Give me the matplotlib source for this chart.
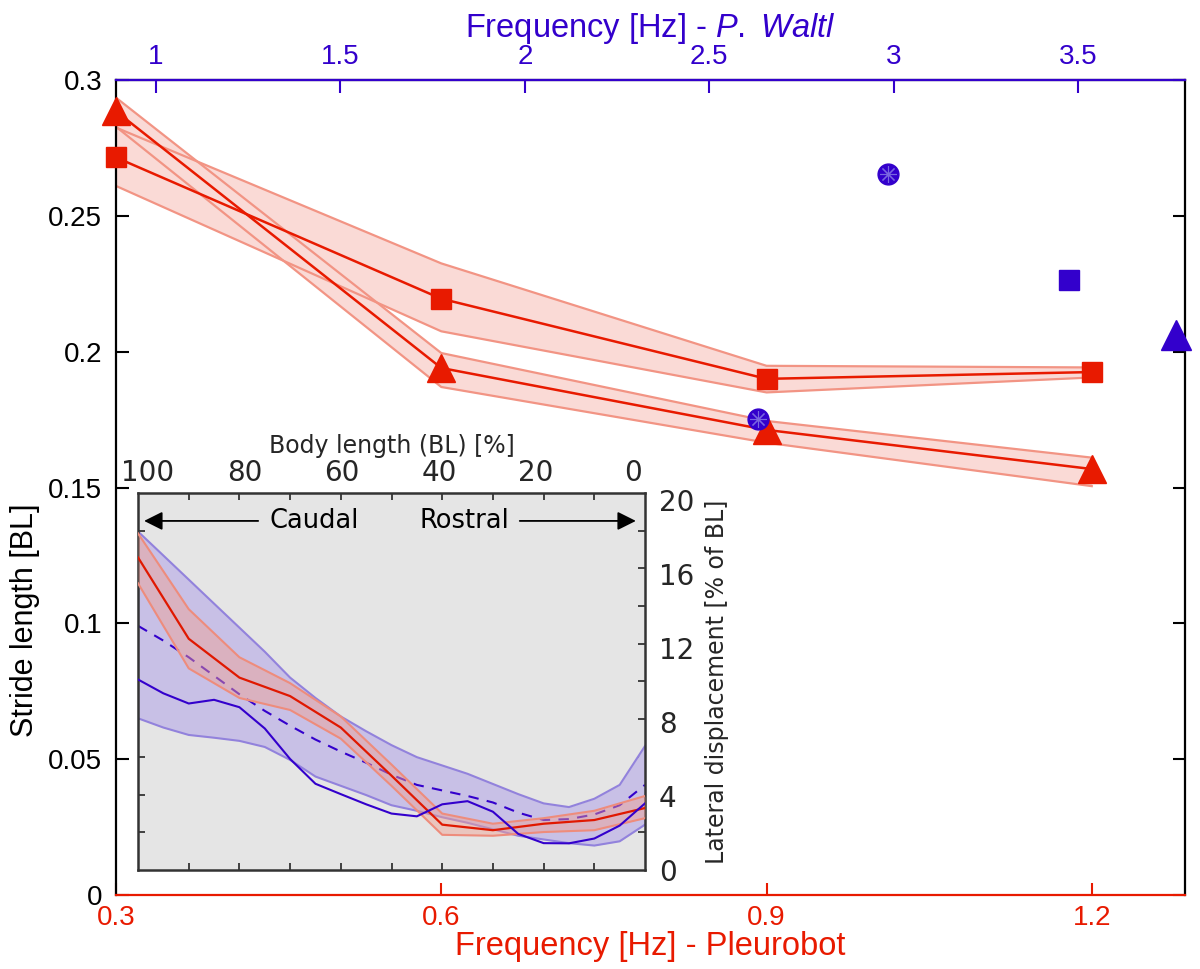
import numpy as np
import matplotlib
matplotlib.use('Agg')
import matplotlib.pyplot as plt

plt.rcParams['mathtext.fontset'] = 'custom'
plt.rcParams['mathtext.it'] = 'Liberation Sans:italic'
plt.rcParams['mathtext.rm'] = 'Liberation Sans'

# ---------------- main data ----------------
freq_pleurobot = [0.3, 0.6, 0.9, 1.2]
stride_sq = [0.2715, 0.2195, 0.190, 0.1925]
stride_sq_lo = [0.261, 0.2075, 0.185, 0.1905]
stride_sq_hi = [0.2825, 0.2325, 0.1948, 0.1942]
stride_tri = [0.2885, 0.194, 0.1712, 0.1568]
stride_tri_lo = [0.2828, 0.187, 0.1665, 0.1505]
stride_tri_hi = [0.2935, 0.1995, 0.1745, 0.161]

waltl_freq_circle = [2.985, 2.632]
waltl_stride_circle = [0.2655, 0.1753]
waltl_freq_square = [3.476]
waltl_stride_square = [0.2264]
waltl_freq_triangle = [3.765]
waltl_stride_triangle = [0.2062]

bottom_ticks = [0.3, 0.6, 0.9, 1.2]
bottom_ticklabels = ['0.3', '0.6', '0.9', '1.2']
top_ticks = [1, 1.5, 2, 2.5, 3, 3.5]
top_ticklabels = ['1', '1.5', '2', '2.5', '3', '3.5']
y_ticks = [0, 0.05, 0.1, 0.15, 0.2, 0.25, 0.3]
y_ticklabels = ['0', '0.05', '0.1', '0.15', '0.2', '0.25', '0.3']

# ---------------- inset data ----------------
bl_red = [102.06, 91.6, 81.15, 70.7, 60.25, 49.8, 39.34, 28.89, 18.43, 7.98, -2.47]
disp_red = [16.9, 12.5, 10.4, 9.4, 7.7, 5.1, 2.45, 2.15, 2.5, 2.7, 3.35]
disp_red_hi = [18.2, 14.1, 11.5, 10.1, 8.3, 5.7, 3.05, 2.5, 2.8, 3.2, 4.0]
disp_red_lo = [15.5, 10.9, 9.3, 8.65, 7.1, 4.55, 1.9, 1.85, 2.05, 2.15, 2.8]

bl_blue = [102.06, 96.83, 91.6, 86.38, 81.15, 75.92, 70.7, 65.47, 60.25, 55.02, 49.8,
           44.57, 39.34, 34.12, 28.89, 23.66, 18.43, 13.21, 7.98, 2.75, -2.47]
disp_blue = [10.3, 9.55, 9.0, 9.2, 8.8, 7.65, 6.0, 4.66, 4.1, 3.55, 3.05,
             2.9, 3.55, 3.72, 3.15, 1.95, 1.45, 1.44, 1.7, 2.4, 3.6]
disp_blue_hi = [18.3, 17.0, 15.7, 14.4, 13.1, 11.8, 10.4, 9.3, 8.3, 7.5, 6.75,
                6.1, 5.65, 5.2, 4.65, 4.1, 3.6, 3.4, 3.85, 4.6, 6.7]
disp_blue_lo = [8.2, 7.7, 7.3, 7.15, 6.98, 6.65, 5.95, 5.05, 4.55, 4.05, 3.5,
                3.2, 2.85, 2.55, 2.2, 1.85, 1.65, 1.45, 1.32, 1.55, 2.45]
disp_blue_dash = [13.2, 12.4, 11.5, 10.5, 9.5, 8.6, 7.8, 7.05, 6.4, 5.8, 5.15,
                  4.6, 4.3, 4.0, 3.65, 3.1, 2.7, 2.75, 3.0, 3.5, 4.6]

inset_xlabels_pos = [100, 80, 60, 40, 20, 0]
inset_xlabels = ['100', '80', '60', '40', '20', '0']
inset_ylabels_pos = [0, 4, 8, 12, 16, 20]
inset_ylabels = ['0', '4', '8', '12', '16', '20']

RED = '#E81A00'
BAND_FILL = '#FADAD6'
BAND_EDGE = '#F29484'
BLUE = '#3300CC'
MAIN_FONT = 'Liberation Sans'

fig = plt.figure(figsize=(12, 9.69), dpi=100)
ax = fig.add_axes([0.0967, 0.0764, 0.8908, 0.841])
ax.set_xlim(0.3, 1.286)
ax.set_ylim(0, 0.3)

# bands
ax.fill_between(freq_pleurobot, stride_sq_lo, stride_sq_hi, color=BAND_FILL, lw=0, zorder=1)
ax.fill_between(freq_pleurobot, stride_tri_lo, stride_tri_hi, color=BAND_FILL, lw=0, zorder=1)
for arr in (stride_sq_lo, stride_sq_hi, stride_tri_lo, stride_tri_hi):
    ax.plot(freq_pleurobot, arr, color=BAND_EDGE, lw=1.6, zorder=2)
ax.plot(freq_pleurobot, stride_sq, color=RED, lw=1.8, zorder=3)
ax.plot(freq_pleurobot, stride_tri, color=RED, lw=1.8, zorder=3)
ax.plot(freq_pleurobot, stride_sq, ls='none', marker='s', ms=15, color=RED, mec=RED, zorder=4, clip_on=False)
ax.plot(freq_pleurobot, stride_tri, ls='none', marker='^', ms=20, color=RED, mec=RED, zorder=4, clip_on=False)

ax.set_xticks(bottom_ticks)
ax.set_xticklabels(bottom_ticklabels)
ax.set_yticks(y_ticks)
ax.set_yticklabels(y_ticklabels)
ax.tick_params(axis='x', direction='in', colors=RED, length=9, width=1.5, labelsize=20, pad=7)
ax.tick_params(axis='y', direction='in', colors='black', length=9, width=1.5, labelsize=20, pad=10,
               right=True)
for lab in ax.get_xticklabels() + ax.get_yticklabels():
    lab.set_fontfamily(MAIN_FONT)
ax.spines['bottom'].set_color(RED)
ax.spines['left'].set_color('black')
ax.spines['right'].set_color('black')
for s in ax.spines.values():
    s.set_linewidth(1.6)
ax.set_xlabel('Frequency [Hz] - Pleurobot', color=RED, fontsize=23.5, fontfamily=MAIN_FONT, labelpad=0)
ax.set_ylabel('Stride length [BL]', color='black', fontsize=22, fontfamily=MAIN_FONT)
ax.yaxis.set_label_coords(-0.071, 0.337)

# top axis (P. Waltl)
ax2 = ax.twiny()
ax2.set_xlim(0.8915, 3.79)
ax2.set_xticks(top_ticks)
ax2.set_xticklabels(top_ticklabels)
ax2.tick_params(axis='x', direction='in', colors=BLUE, length=9, width=1.5, labelsize=20, pad=7)
for lab in ax2.get_xticklabels():
    lab.set_fontfamily(MAIN_FONT)
ax2.spines['top'].set_color(BLUE)
ax2.spines['top'].set_linewidth(1.6)
ax2.spines['bottom'].set_visible(False)
ax2.spines['left'].set_visible(False)
ax2.spines['right'].set_visible(False)
ax2.set_xlabel('Frequency [Hz] - $\\mathit{P.}$ $\\mathit{Waltl}$', color=BLUE, fontsize=23.5,
               fontfamily=MAIN_FONT, labelpad=5)
ax2.plot(waltl_freq_circle, waltl_stride_circle, ls='none', marker='o', ms=15, color=BLUE, mec=BLUE, zorder=4)
ax2.plot(waltl_freq_circle, waltl_stride_circle, ls='none', marker=(8, 2, 0), ms=12, mec='#7A66E0',
         mew=0.8, zorder=5)
ax2.plot(waltl_freq_square, waltl_stride_square, ls='none', marker='s', ms=15, color=BLUE, mec=BLUE, zorder=4)
ax2.plot(waltl_freq_triangle, waltl_stride_triangle, ls='none', marker='^', ms=21, color=BLUE, mec=BLUE,
         zorder=4, clip_on=False)

# ---------------- inset ----------------
INSET_FONT = 'DejaVu Sans'
GRAY_TXT = '#262626'
axi = fig.add_axes([0.115, 0.1022, 0.4225, 0.389])
axi.set_facecolor('#E5E5E5')
xl = (102.06, -2.47)
yl = (0, 20.38)
axi.set_xlim(*xl)
axi.set_ylim(*yl)
axi.set_axisbelow(True)

axi.fill_between(bl_blue, disp_blue_lo, disp_blue_hi, color='#C8C0E6', lw=0, zorder=1)
axi.plot(bl_blue, disp_blue_hi, color='#9282DC', lw=1.5, zorder=2)
axi.plot(bl_blue, disp_blue_lo, color='#9282DC', lw=1.5, zorder=2)
axi.plot(bl_blue, disp_blue_dash, color=BLUE, lw=1.5, ls=(0, (5, 4)), zorder=2.5)
axi.fill_between(bl_red, disp_red_lo, disp_red_hi, color='#F2A090', alpha=0.45, lw=0, zorder=3)
axi.plot(bl_red, disp_red_hi, color='#EE8C7C', lw=1.5, zorder=3.5)
axi.plot(bl_red, disp_red_lo, color='#EE8C7C', lw=1.5, zorder=3.5)
axi.plot(bl_red, disp_red, color='#E01800', lw=1.6, zorder=4)
axi.plot(bl_blue, disp_blue, color=BLUE, lw=1.5, zorder=4.5)

axi.xaxis.tick_top()
axi.xaxis.set_label_position('top')
axi.yaxis.tick_right()
axi.yaxis.set_label_position('right')
axi.set_xticks(np.linspace(xl[0], xl[1], 11)[1:-1])
axi.set_xticklabels([])
axi.set_xticks(inset_xlabels_pos, minor=True)
axi.set_xticklabels(inset_xlabels, minor=True)
axi.set_yticks(np.linspace(yl[0], yl[1], 11)[1:-1])
axi.set_yticklabels([])
axi.set_yticks(inset_ylabels_pos, minor=True)
axi.set_yticklabels(inset_ylabels, minor=True)
axi.tick_params(which='major', direction='in', length=5, width=1.3, color='#333333',
                top=True, bottom=True, left=True, right=True)
axi.tick_params(which='minor', length=0, labelsize=20, labelcolor=GRAY_TXT)
axi.tick_params(axis='x', which='minor', pad=4)
axi.tick_params(axis='y', which='minor', pad=10)
for s in axi.spines.values():
    s.set_color('#333333')
    s.set_linewidth(1.8)
axi.set_xlabel('Body length (BL) [%]', fontsize=17, color=GRAY_TXT, family=INSET_FONT, labelpad=5)
axi.set_ylabel('Lateral displacement [% of BL]', fontsize=17, color=GRAY_TXT, family=INSET_FONT,
               labelpad=8)

axi.annotate('', xy=(0.012, 0.926), xytext=(0.237, 0.926), xycoords='axes fraction',
             arrowprops=dict(arrowstyle='-|>', color='black', lw=1.3, mutation_scale=28,
                             shrinkA=0, shrinkB=0), zorder=6)
axi.text(0.26, 0.926, 'Caudal', transform=axi.transAxes, fontsize=18.5, family=INSET_FONT,
         ha='left', va='center', color='black', zorder=6)
axi.text(0.555, 0.926, 'Rostral', transform=axi.transAxes, fontsize=18.5, family=INSET_FONT,
         ha='left', va='center', color='black', zorder=6)
axi.annotate('', xy=(0.982, 0.926), xytext=(0.753, 0.926), xycoords='axes fraction',
             arrowprops=dict(arrowstyle='-|>', color='black', lw=1.3, mutation_scale=28,
                             shrinkA=0, shrinkB=0), zorder=6)

fig.savefig('out.png', dpi=100)
